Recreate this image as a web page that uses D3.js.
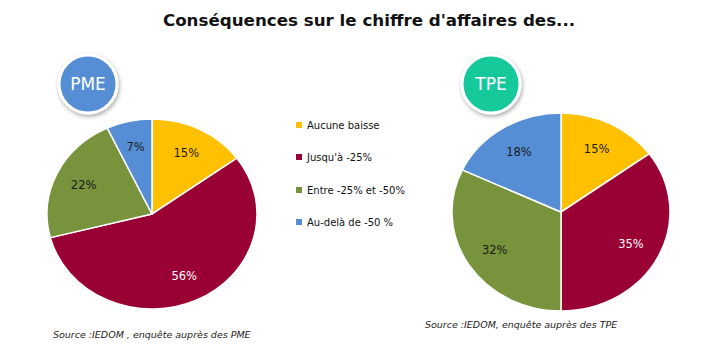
<!DOCTYPE html>
<html><head><meta charset="utf-8">
<script src="https://cdn.jsdelivr.net/npm/d3@7"></script>
<style>
body{margin:0;background:#fff;}
svg{display:block;}
text{font-family:"DejaVu Sans",Verdana,sans-serif;}
</style></head>
<body>
<svg id="c" width="722" height="359"></svg>
<script>
const title = "Conséquences sur le chiffre d'affaires des...";
const categories = ["Aucune baisse", "Jusqu'à -25%", "Entre -25% et -50%", "Au-delà de -50 %"];
const colors = ["#FFC000", "#990033", "#77933C", "#558ED5"];
const pmeValues = [15, 56, 22, 7];
const tpeValues = [15, 35, 32, 18];
const labelColorsPme = ["#1a1a1a", "#ffffff", "#1a1a1a", "#1a1a1a"];
const labelColorsTpe = ["#1a1a1a", "#ffffff", "#1a1a1a", "#1a1a1a"];
const sources = ["Source :IEDOM ,  enquête auprès des PME", "Source :IEDOM, enquête auprès des TPE"];

const svg = d3.select("#c");

const defs = svg.append("defs");
const f = defs.append("filter").attr("id","sh").attr("x","-30%").attr("y","-30%").attr("width","160%").attr("height","160%");
f.append("feDropShadow").attr("dx",1).attr("dy",2).attr("stdDeviation",2).attr("flood-color","#000").attr("flood-opacity",0.35);

svg.append("text").attr("x",369).attr("y",26).attr("text-anchor","middle")
  .attr("font-size",16.7).attr("font-weight","bold").attr("fill","#111").text(title);

function drawPie(values, cx, cy, rx, ry, labelColors, badge, badgeColor, bx, by, src, sx, sy){
  const pie = d3.pie().sort(null).value(d=>d);
  const arcs = pie(values);
  const arc = d3.arc().innerRadius(0).outerRadius(ry);
  const g = svg.append("g").attr("transform",`translate(${cx},${cy}) scale(${rx/ry},1)`);
  g.selectAll("path").data(arcs).join("path")
    .attr("d",arc).attr("fill",(d,i)=>colors[i])
    .attr("stroke","#fff").attr("stroke-width",1.5).attr("vector-effect","non-scaling-stroke");
  const lf = 0.72;
  svg.append("g").selectAll("text").data(arcs).join("text")
    .attr("x",d=>{const a=(d.startAngle+d.endAngle)/2; return cx+Math.sin(a)*rx*lf;})
    .attr("y",d=>{const a=(d.startAngle+d.endAngle)/2; return cy-Math.cos(a)*ry*lf;})
    .attr("dy","0.35em").attr("text-anchor","middle").attr("font-size",11.5)
    .attr("fill",(d,i)=>labelColors[i]).text(d=>d.data+"%");
  // badge
  svg.append("circle").attr("cx",bx).attr("cy",by).attr("r",29).attr("fill",badgeColor)
    .attr("stroke","#fff").attr("stroke-width",3).attr("filter","url(#sh)");
  svg.append("text").attr("x",bx).attr("y",by).attr("dy","0.36em").attr("text-anchor","middle")
    .attr("font-size",17).attr("fill","#fff").text(badge);
  svg.append("text").attr("x",sx).attr("y",sy).attr("font-size",9.5).attr("font-style","italic")
    .attr("fill","#222").text(src);
}

drawPie(pmeValues,152,214,105,95,labelColorsPme,"PME","#558ED5",88,84,sources[0],53,338);
drawPie(tpeValues,561,212,109,99,labelColorsTpe,"TPE","#12C99A",491,84,sources[1],425,328);

// legend
const lg = svg.append("g");
const rows = [125,157,190,222];
categories.forEach((c,i)=>{
  lg.append("rect").attr("x",296).attr("y",rows[i]-3).attr("width",6).attr("height",6).attr("fill",colors[i]);
  lg.append("text").attr("x",307).attr("y",rows[i]).attr("dy","0.35em").attr("font-size",10).attr("fill","#111").text(c);
});
</script>
</body></html>
